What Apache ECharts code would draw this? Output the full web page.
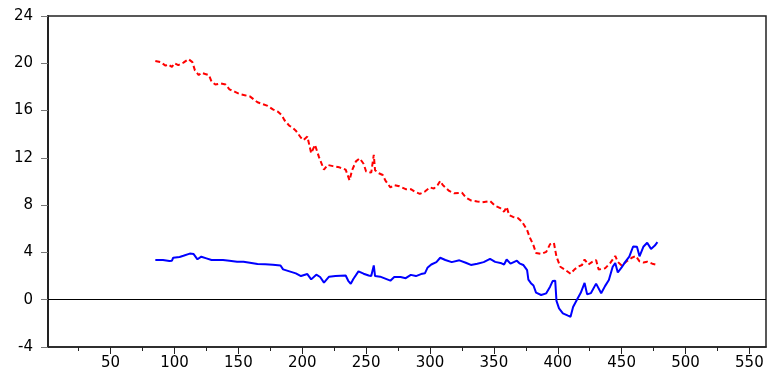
<!DOCTYPE html>
<html>
<head>
<meta charset="utf-8">
<script src="https://cdn.jsdelivr.net/npm/echarts@6/dist/echarts.min.js"></script>
<style>html,body{margin:0;padding:0;background:#fff;}#c{width:769px;height:378px;}</style>
</head>
<body>
<div id="c"></div>
<script>
// Red dashed series: [observation, value]
var redObs = [85,89,93,95,98,100,103,107,111,114,116,119,121,124,127,129,132,136,140,143,147,151,155,159,162,165,169,173,177,181,184,186,190,192,195,199,201,204,207,210,213,217,220,224,229,234,237,239,242,245,248,250,254,256,257,260,263,265,269,272,276,281,285,288,292,296,300,303,306,308,310,315,319,325,328,332,337,341,347,351,355,358,360,362,365,369,372,376,378,381,383,387,391,394,397,399,402,406,410,413,416,419,421,424,427,430,432,437,441,445,447,450,454,458,461,464,467,470,474,478];
var redVal = [20.2,20.1,19.8,19.9,19.7,20.0,19.85,20.05,20.35,20.1,19.4,19.0,19.2,19.1,19.0,18.45,18.2,18.3,18.2,17.8,17.6,17.4,17.3,17.2,16.95,16.7,16.55,16.4,16.1,15.9,15.6,15.2,14.7,14.6,14.3,13.7,13.5,13.8,12.4,13.1,12.1,11.0,11.4,11.3,11.2,11.0,10.1,10.95,11.7,11.95,11.5,10.85,10.75,12.25,10.95,10.7,10.55,10.1,9.5,9.7,9.6,9.35,9.35,9.15,8.95,9.15,9.5,9.4,9.7,10.05,9.7,9.2,9.0,9.05,8.65,8.4,8.3,8.25,8.35,7.95,7.75,7.45,7.85,7.15,7.0,6.9,6.6,5.9,5.3,4.6,3.95,3.87,4.05,4.7,4.8,3.64,2.79,2.51,2.2,2.55,2.8,2.94,3.4,2.98,3.2,3.35,2.55,2.65,3.1,3.7,3.2,2.9,3.25,3.55,3.7,3.25,3.15,3.22,3.05,2.94];
// Blue solid series
var blueObs = [85,91,96,98,99,104,107,112,115,118,121,125,129,133,138,143,149,154,159,165,171,177,183,185,190,195,199,204,207,211,214,217,221,226,234,236,238,240,244,248,252,254,256,257,261,265,269,272,277,281,285,289,293,296,298,301,305,308,312,317,323,328,332,337,342,347,351,356,358,360,363,366,368,370,373,376,377,379,381,383,387,391,394,396,398,399,401,404,408,410,411,412,415,418,421,423,426,430,431,434,437,440,443,445,447,450,453,456,459,462,464,467,470,473,476,478];
var blueVal = [3.36,3.36,3.27,3.3,3.55,3.62,3.72,3.9,3.86,3.42,3.64,3.5,3.36,3.36,3.36,3.3,3.22,3.22,3.13,3.02,2.99,2.96,2.9,2.57,2.4,2.23,2.0,2.17,1.72,2.12,1.92,1.45,1.95,2.0,2.05,1.6,1.35,1.75,2.4,2.2,2.05,2.0,2.9,2.0,1.95,1.78,1.61,1.92,1.92,1.82,2.1,2.0,2.17,2.23,2.7,2.98,3.18,3.55,3.36,3.18,3.33,3.13,2.94,3.05,3.18,3.45,3.2,3.08,2.98,3.4,3.05,3.2,3.3,3.08,2.94,2.5,1.7,1.4,1.2,0.6,0.4,0.54,1.1,1.58,1.61,-0.1,-0.73,-1.15,-1.35,-1.44,-1.57,-0.62,0.0,0.58,1.42,0.45,0.56,1.36,1.52,0.54,1.15,1.67,2.79,3.1,2.3,2.74,3.22,3.65,4.5,4.48,3.67,4.48,4.82,4.3,4.58,4.87];
// Axis ticks / labels
var xMajorTicks = [50,100,150,200,250,300,350,400,450,500,550];
var xMinorTicks = [25,75,125,175,225,275,325,375,425,475,525];
var yTicks = [-4,0,4,8,12,16,20,24];

function zip(a, b) { var r = []; for (var i = 0; i < a.length; i++) r.push([a[i], b[i]]); return r; }

var chart = echarts.init(document.getElementById('c'), null, {renderer: 'canvas'});
var font = 'DejaVu Sans';
chart.setOption({
  animation: false,
  backgroundColor: '#fff',
  grid: {left: 48, right: 3, top: 16, bottom: 31, show: true, borderColor: '#222', borderWidth: 1.5, containLabel: false},
  xAxis: [{
    type: 'value', min: 1, max: 563,
    axisLine: {show: true, onZero: false, lineStyle: {color: '#222', width: 1.5}},
    axisTick: {show: true, length: 7, customValues: xMajorTicks, lineStyle: {color: '#222', width: 1}},
    axisLabel: {show: true, customValues: xMajorTicks, margin: 9, color: '#000', fontFamily: font, fontSize: 15},
    splitLine: {show: false}
  }, {
    type: 'value', min: 1, max: 563, position: 'bottom', offset: 0,
    axisLine: {show: false, onZero: false},
    axisTick: {show: true, length: 4, customValues: xMinorTicks, lineStyle: {color: '#222', width: 1}},
    axisLabel: {show: false},
    splitLine: {show: false}
  }],
  yAxis: {
    type: 'value', min: -4, max: 24, interval: 4,
    axisLine: {show: true, onZero: false, lineStyle: {color: '#222', width: 2}},
    axisTick: {show: true, length: 7, customValues: yTicks, lineStyle: {color: '#777', width: 1}},
    axisLabel: {show: true, customValues: yTicks, margin: 15, color: '#000', fontFamily: font, fontSize: 15},
    splitLine: {show: false}
  },
  series: [{
    type: 'line', name: 'red', data: zip(redObs, redVal), showSymbol: false, symbol: 'none',
    lineStyle: {color: '#ff0000', width: 2, type: [5, 3]}, z: 3
  }, {
    type: 'line', name: 'blue', data: zip(blueObs, blueVal), showSymbol: false, symbol: 'none',
    lineStyle: {color: '#0000ff', width: 2}, z: 4,
    markLine: {silent: true, symbol: 'none', label: {show: false},
      lineStyle: {color: '#000', width: 1, type: 'solid'}, data: [{yAxis: 0}], z: 2}
  }]
});
</script>
</body>
</html>
